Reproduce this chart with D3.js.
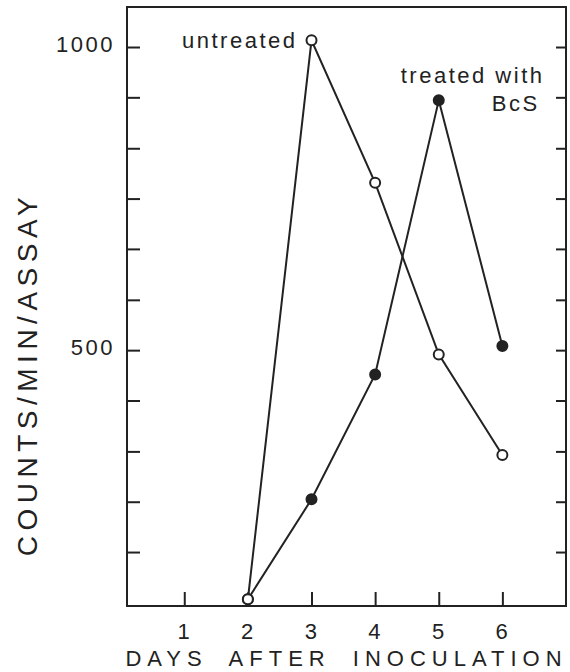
<!DOCTYPE html>
<html>
<head>
<meta charset="utf-8">
<script src="https://cdn.jsdelivr.net/npm/d3@7"></script>
<style>
	body { margin: 0; background: #fff; }
	text { font-family: "Liberation Sans", Arial, sans-serif; fill: #222; }
</style>
</head>
<body>
<svg id="chart"></svg>
<script>
// data
const days = [2, 3, 4, 5, 6];
const untreated = [89, 1011, 776, 493, 327];
const treated = [89, 254, 460, 912, 507];
const xTicks = [1, 2, 3, 4, 5, 6];
const yTicks = [167, 250, 333, 417, 500, 583, 667, 750, 833, 917, 1000];
const yLabelled = [500, 1000];

const size = { w: 570, h: 672 };
const margin = { t: 7, r: 4, b: 66, l: 127 };
const ink = "#222";

const svg = d3.select("svg#chart").attr("width", size.w).attr("height", size.h);

const x = d3.scaleLinear().domain([0.1, 7]).range([margin.l, size.w - margin.r]);
const y = d3.scaleLinear().domain([78, 1066]).range([size.h - margin.b, margin.t]);

// frame
svg.append("rect")
	.attr("x", x.range()[0])
	.attr("y", y.range()[1])
	.attr("width", x.range()[1] - x.range()[0])
	.attr("height", y.range()[0] - y.range()[1])
	.attr("fill", "none")
	.attr("stroke", ink)
	.attr("stroke-width", 2);

// left axis, ticks pointing inward
const leftAxis = svg.append("g")
	.attr("transform", `translate(${x.range()[0]},0)`)
	.call(d3.axisLeft(y)
		.tickValues(yTicks)
		.tickSizeInner(-13)
		.tickSizeOuter(0)
		.tickPadding(12)
		.tickFormat((d) => (yLabelled.includes(d) ? d : "")));

// right axis, ticks only
const rightAxis = svg.append("g")
	.attr("transform", `translate(${x.range()[1]},0)`)
	.call(d3.axisLeft(y).tickValues(yTicks).tickSizeInner(10).tickSizeOuter(0).tickFormat(""));

// bottom axis
const bottomAxis = svg.append("g")
	.attr("transform", `translate(0,${y.range()[0]})`)
	.call(d3.axisBottom(x)
		.tickValues(xTicks)
		.tickSizeInner(-14)
		.tickSizeOuter(0)
		.tickPadding(17)
		.tickFormat(d3.format("d")));

[leftAxis, rightAxis, bottomAxis].forEach((g) => {
	g.select(".domain").remove();
	g.selectAll(".tick line").attr("stroke", ink).attr("stroke-width", 2);
	g.selectAll(".tick text")
		.attr("font-size", 22)
		.attr("letter-spacing", 2.5)
		.attr("fill", ink);
});
leftAxis.selectAll(".tick text").attr("dy", "0.2em");

// lines
const line = d3.line().x((d) => x(d[0])).y((d) => y(d[1]));
const series = [
	{ name: "treated", values: treated, fill: ink },
	{ name: "untreated", values: untreated, fill: "#fff" },
];

series.forEach((s) => {
	const pts = days.map((d, i) => [d, s.values[i]]);
	svg.append("path")
		.datum(pts)
		.attr("d", line)
		.attr("fill", "none")
		.attr("stroke", ink)
		.attr("stroke-width", 2);
	svg.selectAll(`circle.${s.name}`)
		.data(pts)
		.join("circle")
		.attr("class", s.name)
		.attr("cx", (d) => x(d[0]))
		.attr("cy", (d) => y(d[1]))
		.attr("r", 5)
		.attr("fill", s.fill)
		.attr("stroke", ink)
		.attr("stroke-width", 2);
});

// annotations
svg.append("text")
	.attr("x", x(3) - 14)
	.attr("y", y(untreated[1]) + 8)
	.attr("text-anchor", "end")
	.attr("font-size", 22)
	.attr("letter-spacing", 2.5)
	.text("untreated");

svg.append("text")
	.attr("x", x(5) - 38)
	.attr("y", y(treated[3]) - 17)
	.attr("font-size", 22)
	.attr("letter-spacing", 2.5)
	.text("treated with");

svg.append("text")
	.attr("x", x(5) + 53)
	.attr("y", y(treated[3]) + 11)
	.attr("font-size", 22)
	.attr("letter-spacing", 2.5)
	.text("BcS");

// axis titles
svg.append("text")
	.attr("x", (x.range()[0] + x.range()[1]) / 2)
	.attr("y", 666)
	.attr("text-anchor", "middle")
	.attr("font-size", 22)
	.attr("letter-spacing", 6)
	.attr("word-spacing", 10)
	.text("DAYS AFTER INOCULATION");

svg.append("text")
	.attr("transform", "translate(37,374) rotate(-90)")
	.attr("text-anchor", "middle")
	.attr("font-size", 28)
	.attr("letter-spacing", 5.5)
	.text("COUNTS/MIN/ASSAY");
</script>
</body>
</html>
